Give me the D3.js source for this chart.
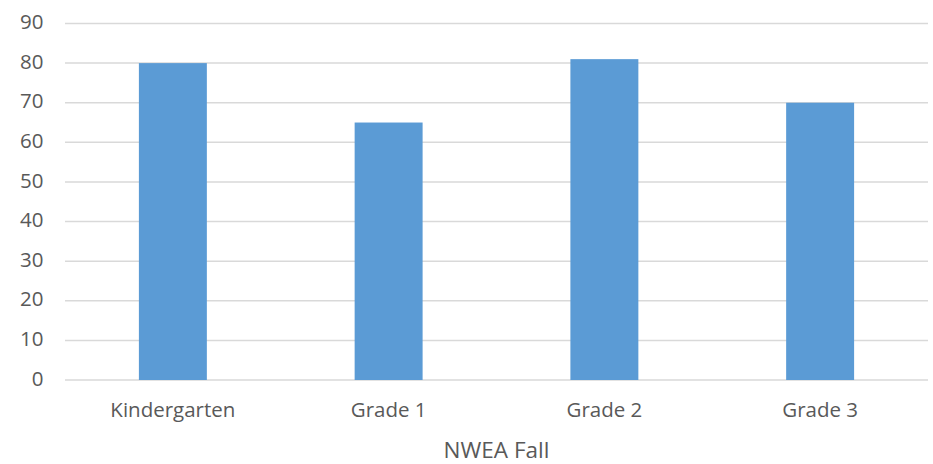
<!DOCTYPE html>
<html>
<head>
<meta charset="utf-8">
<script src="https://cdn.jsdelivr.net/npm/d3@7"></script>
<style>
  html, body { margin: 0; padding: 0; background: #fff; }
  svg text { font-family: "Open Sans", "Noto Sans", sans-serif; fill: #595959; }
</style>
</head>
<body>
<svg id="chart" width="933" height="464"></svg>
<script>
// NWEA Fall scores by grade
const categories = ["Kindergarten", "Grade 1", "Grade 2", "Grade 3"];
const values = [80, 65, 81, 70];
const yTicks = [0, 10, 20, 30, 40, 50, 60, 70, 80, 90];
const axisTitle = "NWEA Fall";

const svg = d3.select("#chart");
const margin = { left: 65, right: 5, top: 23.5, bottom: 84 };
const width = 933, height = 464;

const x = d3.scaleBand()
  .domain(categories)
  .range([margin.left, width - margin.right])
  .padding(0);

const y = d3.scaleLinear()
  .domain([0, 90])
  .range([height - margin.bottom, margin.top]);

// horizontal gridlines
svg.append("g")
  .selectAll("line")
  .data(yTicks)
  .join("line")
  .attr("x1", margin.left)
  .attr("x2", width - margin.right)
  .attr("y1", d => y(d))
  .attr("y2", d => y(d))
  .attr("stroke", "#d9d9d9")
  .attr("stroke-width", 1.5);

// y axis labels
const yAxis = d3.axisLeft(y).tickValues(yTicks).tickSize(0).tickPadding(0);
const gy = svg.append("g")
  .attr("transform", `translate(${margin.left - 21.5},-1.5)`)
  .call(yAxis);
gy.select(".domain").remove();
gy.selectAll("text")
  .attr("font-size", 20.5)
  .attr("font-family", null)
  .attr("fill", "#595959");

// bars
const barFrac = 0.315;
svg.append("g")
  .selectAll("rect")
  .data(values)
  .join("rect")
  .attr("x", (d, i) => x(categories[i]) + x.bandwidth() * (1 - barFrac) / 2)
  .attr("width", x.bandwidth() * barFrac)
  .attr("y", d => y(d))
  .attr("height", d => y(0) - y(d))
  .attr("fill", "#5b9bd5");

// x axis labels
const xAxis = d3.axisBottom(x).tickSize(0).tickPadding(0);
const gx = svg.append("g")
  .attr("transform", `translate(0,${y(0)})`)
  .call(xAxis);
gx.select(".domain").remove();
gx.selectAll("text")
  .attr("font-size", 20.5)
  .attr("font-family", null)
  .attr("fill", "#595959")
  .attr("dy", null)
  .attr("y", 36.7);

// axis title
svg.append("text")
  .attr("x", (margin.left + width - margin.right) / 2)
  .attr("y", 457.5)
  .attr("text-anchor", "middle")
  .attr("font-size", 22.5)
  .text(axisTitle);
</script>
</body>
</html>
